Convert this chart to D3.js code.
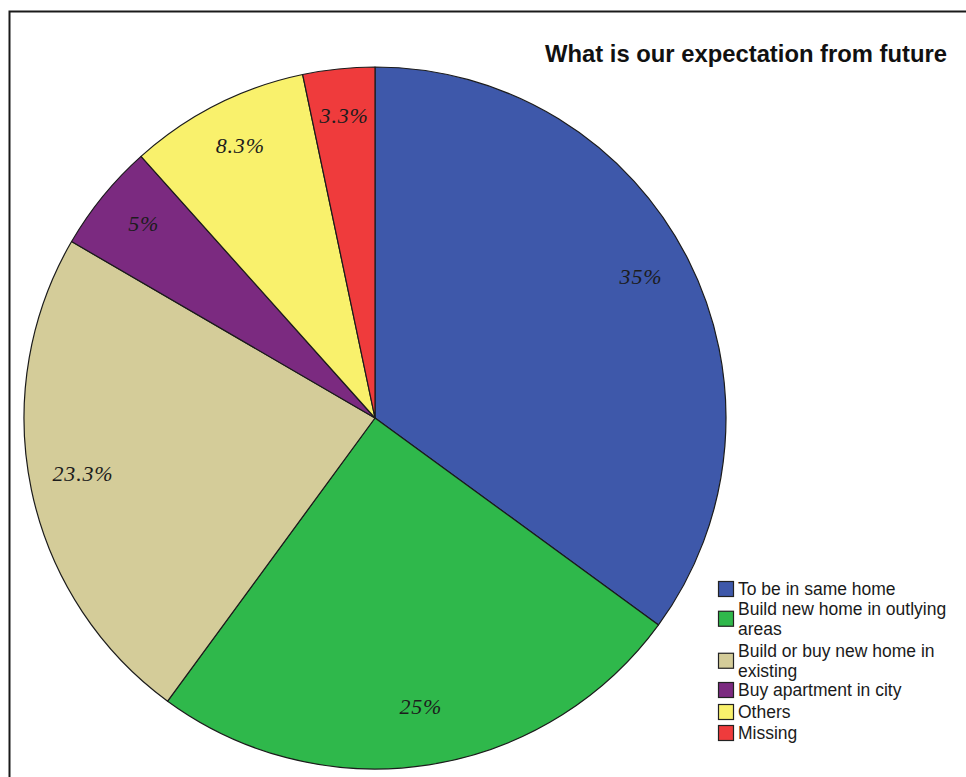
<!DOCTYPE html>
<html>
<head>
<meta charset="utf-8">
<script src="https://cdn.jsdelivr.net/npm/d3@7/dist/d3.min.js"></script>
<style>
  html, body { margin: 0; padding: 0; background: #fff; }
  svg { display: block; }
</style>
</head>
<body>
<svg id="chart" width="966" height="777"></svg>
<script>
// Survey answers: "What is our expectation from future"
const categories = [
  "To be in same home",
  "Build new home in outlying areas",
  "Build or buy new home in existing",
  "Buy apartment in city",
  "Others",
  "Missing"
];
const legendLines = [
  ["To be in same home"],
  ["Build new home in outlying", "areas"],
  ["Build or buy new home in", "existing"],
  ["Buy apartment in city"],
  ["Others"],
  ["Missing"]
];
const percents = [35, 25, 23.3, 5, 8.3, 3.3];
const percentLabels = ["35%", "25%", "23.3%", "5%", "8.3%", "3.3%"];
const colors = ["#3e58aa", "#2fb84b", "#d4cc99", "#7b2a80", "#f9f16c", "#ef3b3c"];

const svg = d3.select("#chart");

// outer frame
svg.append("rect")
  .attr("x", 9.5).attr("y", 11.5)
  .attr("width", 1200).attr("height", 1200)
  .attr("fill", "none")
  .attr("stroke", "#1a1a1a")
  .attr("stroke-width", 2);

// title
svg.append("text")
  .attr("x", 947).attr("y", 62)
  .attr("text-anchor", "end")
  .attr("font-family", "Liberation Sans, Arial, sans-serif")
  .attr("font-weight", "bold")
  .attr("font-size", 23.8)
  .attr("fill", "#111")
  .text("What is our expectation from future");

const cx = 375, cy = 418, R = 351;
const data = categories.map((c, i) => ({ name: c, value: percents[i], label: percentLabels[i], color: colors[i] }));

const pie = d3.pie().sort(null).value(d => d.value);
const arc = d3.arc().innerRadius(0).outerRadius(R);
const labelArc = d3.arc().innerRadius(R * 0.85).outerRadius(R * 0.85);

const g = svg.append("g").attr("transform", `translate(${cx},${cy})`);
const arcs = pie(data);

g.selectAll("path.slice")
  .data(arcs)
  .join("path")
  .attr("class", "slice")
  .attr("d", arc)
  .attr("fill", d => d.data.color)
  .attr("stroke", "#1b1b1b")
  .attr("stroke-width", 1.2)
  .attr("stroke-linejoin", "round");

g.selectAll("text.pct")
  .data(arcs)
  .join("text")
  .attr("class", "pct")
  .attr("transform", d => {
    const [x, y] = labelArc.centroid(d);
    return `translate(${x},${y - 6})`;
  })
  .attr("text-anchor", "middle")
  .attr("dominant-baseline", "central")
  .attr("font-family", "Liberation Serif, Times New Roman, serif")
  .attr("font-style", "italic")
  .attr("font-size", 22)
  .attr("letter-spacing", 0.8)
  .attr("fill", "#1c1c1c")
  .text(d => d.data.label);

// legend
const legend = svg.append("g").attr("transform", "translate(718,0)");
const lineH = 19.5;
const lineY = [589, 609, 651, 690, 712, 733];
legendLines.forEach((lines, i) => {
  const top = lineY[i];
  const mid = top + (lines.length - 1) * lineH / 2;
  legend.append("rect")
    .attr("x", 0.5).attr("y", mid - 7.5)
    .attr("width", 15).attr("height", 15)
    .attr("fill", colors[i])
    .attr("stroke", "#222")
    .attr("stroke-width", 1.2);
  const t = legend.append("text")
    .attr("font-family", "Liberation Sans, Arial, sans-serif")
    .attr("font-size", 17.5)
    .attr("fill", "#1a1a1a");
  lines.forEach((ln, k) => {
    t.append("tspan")
      .attr("x", 20)
      .attr("y", top + k * lineH)
      .attr("dominant-baseline", "central")
      .text(ln);
  });
});
</script>
</body>
</html>
